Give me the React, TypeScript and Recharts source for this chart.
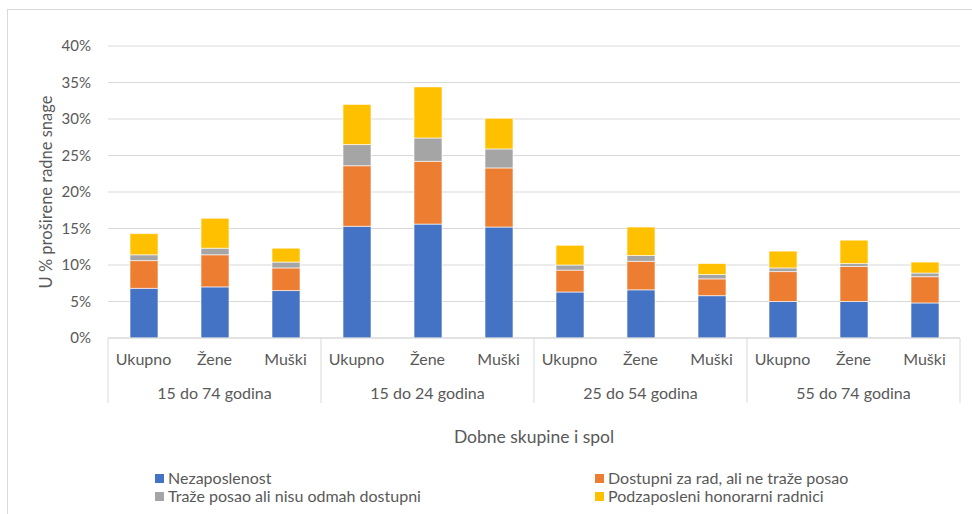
import React from 'react';
import { BarChart, Bar, XAxis, YAxis, CartesianGrid } from 'recharts';

const CATEGORIES = ['Ukupno', 'Žene', 'Muški', 'Ukupno', 'Žene', 'Muški', 'Ukupno', 'Žene', 'Muški', 'Ukupno', 'Žene', 'Muški'];
const GROUPS = ['15 do 74 godina', '15 do 24 godina', '25 do 54 godina', '55 do 74 godina'];

const NEZAPOSLENOST = [6.8, 7.0, 6.5, 15.3, 15.6, 15.2, 6.3, 6.6, 5.8, 5.0, 5.0, 4.8];
const DOSTUPNI = [3.8, 4.4, 3.1, 8.3, 8.6, 8.1, 3.0, 3.9, 2.3, 4.1, 4.8, 3.6];
const TRAZE = [0.8, 0.9, 0.8, 2.9, 3.2, 2.6, 0.7, 0.8, 0.6, 0.5, 0.4, 0.5];
const PODZAPOSLENI = [2.9, 4.1, 1.9, 5.5, 7.0, 4.2, 2.7, 3.9, 1.5, 2.3, 3.2, 1.5];

const Y_TICKS = [0, 5, 10, 15, 20, 25, 30, 35, 40];

const SERIES = [
  { key: 'nez', name: 'Nezaposlenost', color: '#4472C4' },
  { key: 'dos', name: 'Dostupni za rad, ali ne traže posao', color: '#ED7D31' },
  { key: 'tra', name: 'Traže posao ali nisu odmah dostupni', color: '#A5A5A5' },
  { key: 'pod', name: 'Podzaposleni honorarni radnici', color: '#FFC000' },
];

const data = CATEGORIES.map((c, i) => ({
  cat: c,
  nez: NEZAPOSLENOST[i],
  dos: DOSTUPNI[i],
  tra: TRAZE[i],
  pod: PODZAPOSLENI[i],
}));

const W = 972;
const H = 514;
const MARGIN = { top: 46, right: 12, bottom: 0, left: 0 };
const Y_AXIS_W = 108;
const BAND = (W - MARGIN.left - MARGIN.right - Y_AXIS_W) / CATEGORIES.length;

const FONT = 'Lato, "Open Sans", sans-serif';
const TEXT = '#595959';
const GRID = '#d9d9d9';

function CategoryTick(props: any) {
  const { x, y, payload } = props;
  const i = props.index ?? payload.index;
  const half = BAND / 2;
  return (
    <g>
      <text x={x} y={y + 27} textAnchor="middle" fill={TEXT} fontSize={16} fontFamily={FONT}>
        {CATEGORIES[i]}
      </text>
      {i % 3 === 1 && (
        <text x={x} y={y + 61} textAnchor="middle" fill={TEXT} fontSize={16} fontFamily={FONT}>
          {GROUPS[(i - 1) / 3]}
        </text>
      )}
      {i % 3 === 0 && <line x1={x - half} x2={x - half} y1={y} y2={y + 65} stroke={GRID} />}
      {i === CATEGORIES.length - 1 && <line x1={x + half} x2={x + half} y1={y} y2={y + 65} stroke={GRID} />}
    </g>
  );
}

export default function App() {
  return (
    <div style={{ position: 'absolute', left: 0, top: 0, width: W, height: H, overflow: 'hidden', background: '#fff', fontFamily: FONT }}>
      <div style={{ position: 'absolute', left: 7, top: 9, width: W, height: H, border: `1px solid ${GRID}` }} />
      <BarChart width={W} height={H} data={data} margin={MARGIN}>
        <CartesianGrid vertical={false} stroke={GRID} />
        <XAxis
          dataKey="cat"
          interval={0}
          height={176}
          tickSize={0}
          tickMargin={0}
          tickLine={false}
          axisLine={{ stroke: GRID }}
          tick={<CategoryTick />}
          label={{ value: 'Dobne skupine i spol', position: 'insideBottom', offset: 71, fill: TEXT, fontSize: 17.5, fontFamily: FONT }}
        />
        <YAxis
          width={Y_AXIS_W}
          domain={[0, 40]}
          ticks={Y_TICKS}
          tickFormatter={(v: number) => `${v}%`}
          axisLine={false}
          tickLine={false}
          tickSize={0}
          tickMargin={17}
          tick={{ fill: TEXT, fontSize: 15, fontFamily: FONT }}
          label={{ value: 'U % proširene radne snage', angle: -90, position: 'center', dx: -8, fill: TEXT, fontSize: 16.5, fontFamily: FONT }}
        />
        {SERIES.map((s) => (
          <Bar key={s.key} dataKey={s.key} name={s.name} stackId="a" fill={s.color} stroke="#ffffff" strokeWidth={0.6} barSize={28} isAnimationActive={false} />
        ))}
      </BarChart>
      <div style={{ position: 'absolute', left: 155, top: 469, display: 'grid', gridTemplateColumns: '440px 300px', rowGap: 0, fontSize: 16, color: TEXT, lineHeight: '18px' }}>
        {SERIES.map((s) => (
          <div key={s.key} style={{ display: 'flex', alignItems: 'center', whiteSpace: 'nowrap' }}>
            <span style={{ display: 'inline-block', width: 9, height: 9, background: s.color, marginRight: 4 }} />
            {s.name}
          </div>
        ))}
      </div>
    </div>
  );
}
